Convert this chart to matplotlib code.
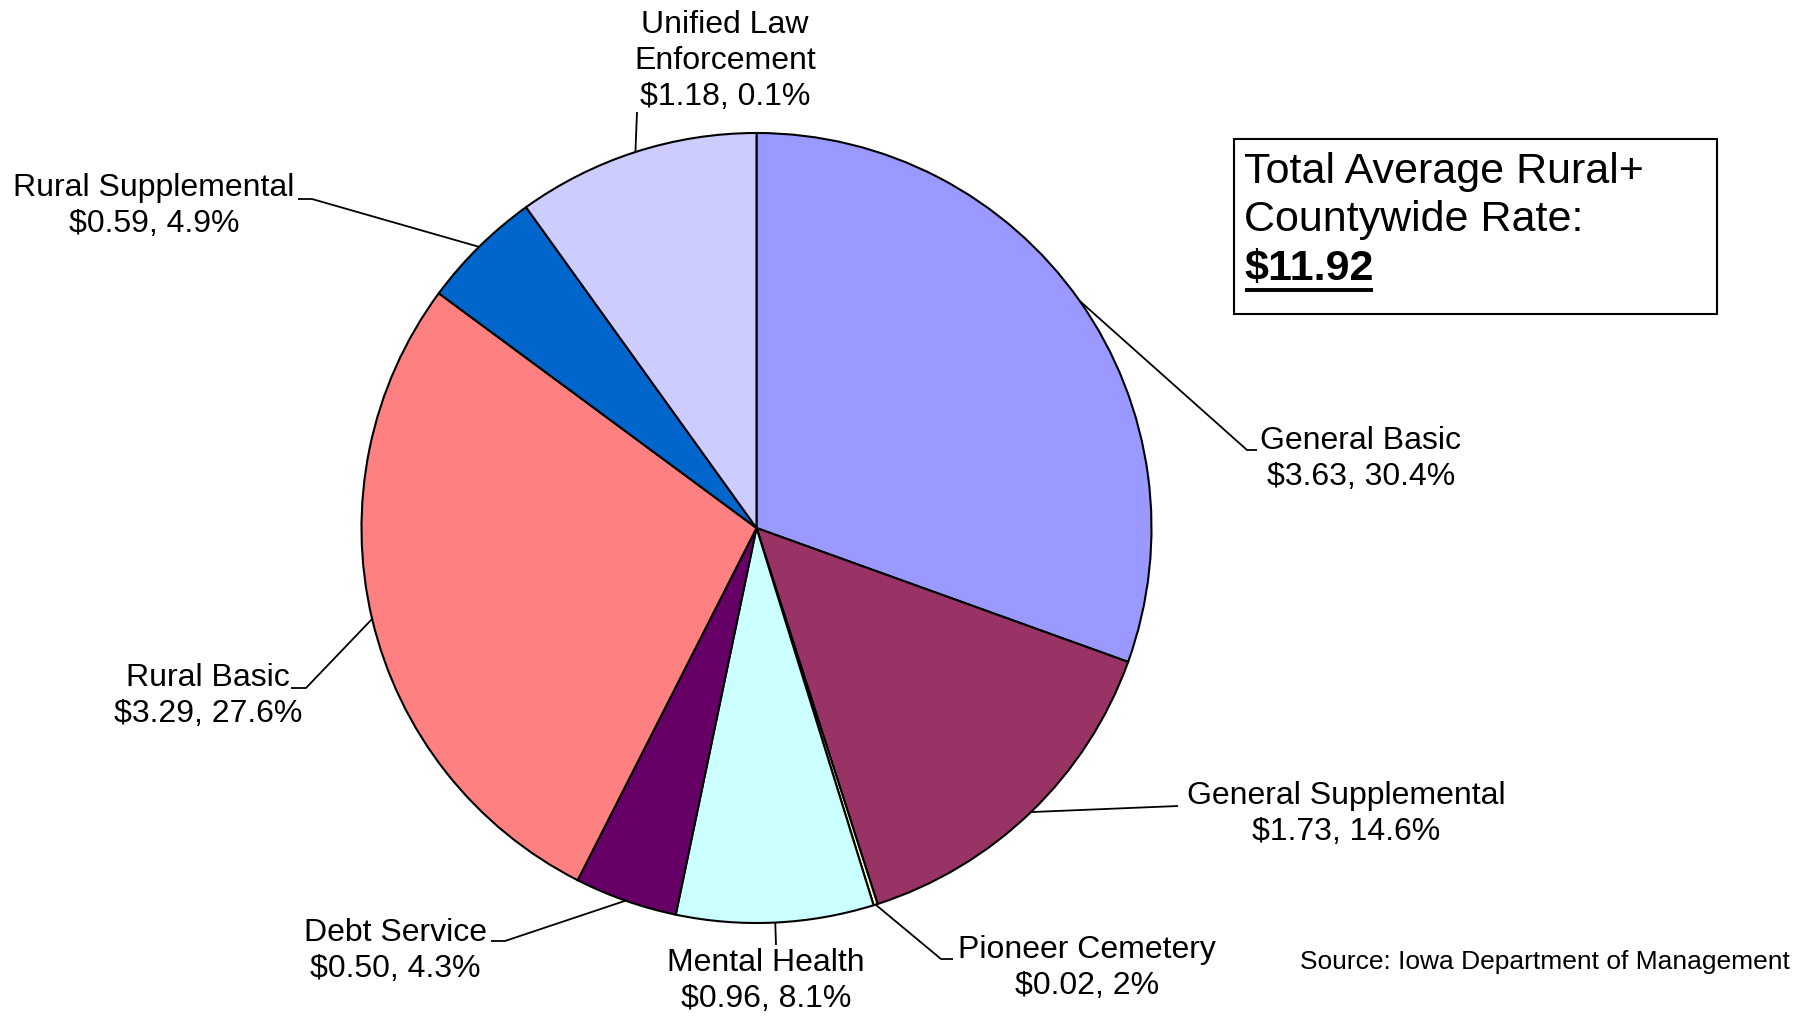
import matplotlib
matplotlib.use("Agg")
import matplotlib.pyplot as plt
import numpy as np
from matplotlib.patches import Rectangle

plt.rcParams["font.family"] = ["Liberation Sans", "DejaVu Sans"]

# ---- data ----
categories = ["General Basic", "General Supplemental", "Pioneer Cemetery", "Mental Health",
              "Debt Service", "Rural Basic", "Rural Supplemental", "Unified Law Enforcement"]
label_names = ["General Basic", "General Supplemental", "Pioneer Cemetery", "Mental Health",
               "Debt Service", "Rural Basic", "Rural Supplemental", "Unified Law\nEnforcement"]
values = [3.63, 1.73, 0.02, 0.96, 0.50, 3.29, 0.59, 1.18]
pct_labels = ["30.4%", "14.6%", "2%", "8.1%", "4.3%", "27.6%", "4.9%", "0.1%"]
colors = ["#9999FF", "#993366", "#FFFFCC", "#CCFFFF", "#660066", "#FF8080", "#0066CC", "#CCCCFF"]
box_lines = ["Total Average Rural+", "Countywide Rate:"]
total_label = "$11.92"
source = "Source: Iowa Department of Management"

W, H = 1811, 1018
fig = plt.figure(figsize=(W / 100, H / 100), dpi=100)
ax = fig.add_axes([0, 0, 1, 1])

def Y(y):
    return H - y

cx, cy, r = 756.5, 528, 395
wedges, _ = ax.pie(values, colors=colors, startangle=90, counterclock=False,
                   center=(cx, Y(cy)), radius=r,
                   wedgeprops=dict(edgecolor="black", linewidth=1.5))
ax.set_xlim(0, W)
ax.set_ylim(0, H)
ax.set_aspect("equal")
ax.axis("off")

# label layout: text centre (px, y down) and leader path points after the edge point
layout = [
    ((1361, 459), [(1247, 450), (1257, 450)]),
    ((1346, 814), [(1178, 806)]),
    ((1087, 968), [(941, 959), (953, 959)]),
    ((766, 981), [(776, 945)]),
    ((395, 951), [(505, 941), (491, 941)]),
    ((208, 696), [(306, 688), (291, 688)]),
    ((154, 206), [(312, 199), (298, 199)]),
    ((725, 61), [(637, 112)]),
]

for w, name, v, p, (tpos, path) in zip(wedges, label_names, values, pct_labels, layout):
    mid = np.deg2rad((w.theta1 + w.theta2) / 2)
    ex = cx + r * np.cos(mid)
    ey = Y(cy) + r * np.sin(mid)
    xs = [ex] + [pt[0] for pt in path]
    ys = [ey] + [Y(pt[1]) for pt in path]
    ax.plot(xs, ys, color="black", lw=1.3, solid_capstyle="butt")
    ax.text(tpos[0], Y(tpos[1]), f"{name}\n${v:.2f}, {p}", ha="center", va="center",
            fontsize=23, linespacing=1.27, parse_math=False)

# total box
ax.add_patch(Rectangle((1234, Y(314)), 1717 - 1234, 314 - 139, fill=False,
                       edgecolor="black", lw=1.5))
ax.text(1244, Y(172), box_lines[0], ha="left", va="center", fontsize=31, parse_math=False)
ax.text(1244, Y(220), box_lines[1], ha="left", va="center", fontsize=31, parse_math=False)
t = ax.text(1244, Y(269), total_label, ha="left", va="center", fontsize=31,
            fontweight="bold", parse_math=False)
fig.canvas.draw()
bb = t.get_window_extent(fig.canvas.get_renderer())
inv = ax.transData.inverted()
(x0, _), (x1, _) = inv.transform([(bb.x0, bb.y0), (bb.x1, bb.y0)])
ax.plot([x0 + 1, x1 - 1], [Y(290), Y(290)], color="black", lw=2.8, solid_capstyle="butt")

ax.text(1790, Y(962), source, ha="right", va="center", fontsize=19, parse_math=False)

fig.savefig("out.png", dpi=100, facecolor="white")
